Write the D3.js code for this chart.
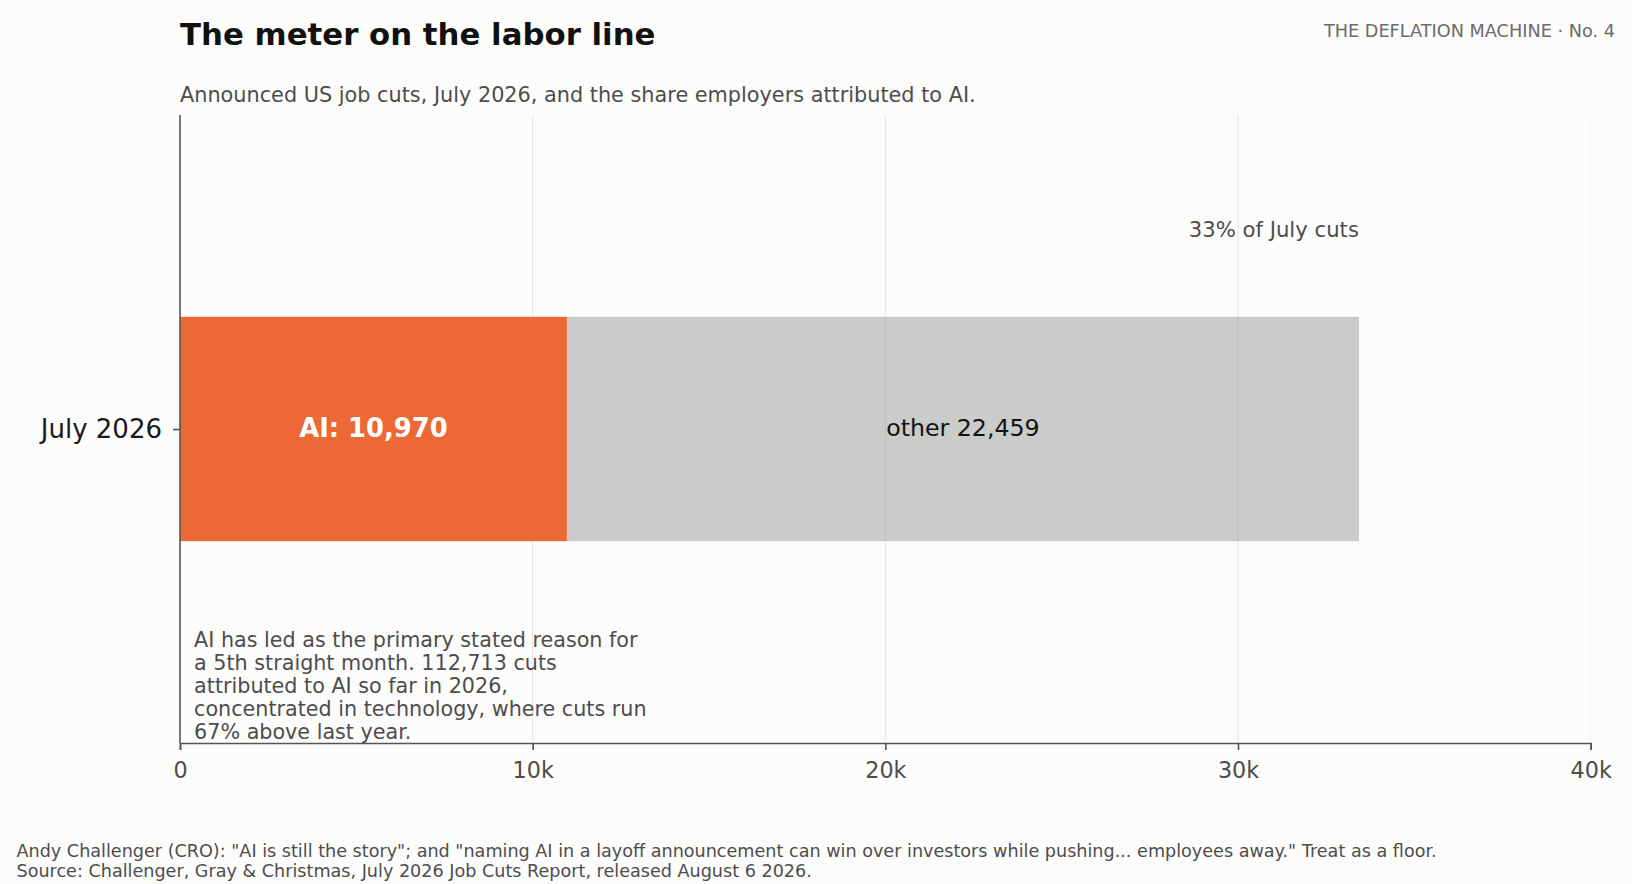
<!DOCTYPE html>
<html>
<head>
<meta charset="utf-8">
<script src="https://cdn.jsdelivr.net/npm/d3@7"></script>
<style>
  body { margin: 0; background: #fcfcfb; }
  svg { display: block; font-family: "DejaVu Sans", sans-serif; }
</style>
</head>
<body>
<div id="chart"></div>
<script>
// data
var categories = ["July 2026"];
var aiCuts = [10970];
var otherCuts = [22459];
var shareLabels = ["33% of July cuts"];
var xTicks = [0, 10000, 20000, 30000, 40000];
var xTickLabels = ["0", "10k", "20k", "30k", "40k"];

var noteLines = [
  "AI has led as the primary stated reason for",
  "a 5th straight month. 112,713 cuts",
  "attributed to AI so far in 2026,",
  "concentrated in technology, where cuts run",
  "67% above last year."
];
var footerLines = [
  "Andy Challenger (CRO): \"AI is still the story\"; and \"naming AI in a layoff announcement can win over investors while pushing... employees away.\" Treat as a floor.",
  "Source: Challenger, Gray & Christmas, July 2026 Job Cuts Report, released August 6 2026."
];

var svgWidth = 1632;
var svgHeight = 884;

var margin = { top: 115, right: 41.3, bottom: 141, left: 180 };
var width = svgWidth - margin.left - margin.right;
var height = svgHeight - margin.top - margin.bottom;

var svg = d3.select("#chart")
  .append("svg")
  .attr("width", svgWidth)
  .attr("height", svgHeight);

svg.append("rect")
  .attr("width", svgWidth)
  .attr("height", svgHeight)
  .attr("fill", "#fcfcfb");

var chartGroup = svg.append("g")
  .attr("transform", `translate(${margin.left}, ${margin.top})`);

var xLinearScale = d3.scaleLinear()
  .domain([0, 40000])
  .range([0, width]);

// one row per category, centred on its index
var yLinearScale = d3.scaleLinear()
  .domain([-0.7, categories.length - 0.3])
  .range([height, 0]);

var barHalf = 0.25;

// grid
chartGroup.append("g")
  .selectAll("line")
  .data(xTicks.slice(1))
  .enter()
  .append("line")
  .attr("x1", d => xLinearScale(d))
  .attr("x2", d => xLinearScale(d))
  .attr("y1", 0)
  .attr("y2", height)
  .attr("stroke", "#b0b0b0")
  .attr("stroke-opacity", d => d === 40000 ? 0.1 : 0.3)
  .attr("stroke-width", 1);

var rows = categories.map((c, i) => ({ cat: c, i: i, ai: aiCuts[i], other: otherCuts[i] }));

// other segment (translucent so the grid shows through)
chartGroup.selectAll(".other-bar")
  .data(rows)
  .enter()
  .append("rect")
  .attr("class", "other-bar")
  .attr("x", d => xLinearScale(d.ai))
  .attr("width", d => xLinearScale(d.ai + d.other) - xLinearScale(d.ai))
  .attr("y", d => yLinearScale(d.i + barHalf))
  .attr("height", d => yLinearScale(d.i - barHalf) - yLinearScale(d.i + barHalf))
  .attr("fill", "#999999")
  .attr("fill-opacity", 0.5);

chartGroup.selectAll(".ai-bar")
  .data(rows)
  .enter()
  .append("rect")
  .attr("class", "ai-bar")
  .attr("x", xLinearScale(0))
  .attr("width", d => xLinearScale(d.ai) - xLinearScale(0))
  .attr("y", d => yLinearScale(d.i + barHalf))
  .attr("height", d => yLinearScale(d.i - barHalf) - yLinearScale(d.i + barHalf))
  .attr("fill", "#ec6835");

// bar labels
chartGroup.selectAll(".ai-label")
  .data(rows)
  .enter()
  .append("text")
  .attr("x", d => xLinearScale(d.ai / 2))
  .attr("y", d => yLinearScale(d.i) + 8)
  .attr("text-anchor", "middle")
  .attr("font-size", 25.8)
  .attr("font-weight", "bold")
  .attr("fill", "#ffffff")
  .text(d => "AI: " + d3.format(",")(d.ai));

chartGroup.selectAll(".other-label")
  .data(rows)
  .enter()
  .append("text")
  .attr("x", d => xLinearScale(d.ai + d.other / 2))
  .attr("y", d => yLinearScale(d.i) + 7)
  .attr("text-anchor", "middle")
  .attr("font-size", 23.7)
  .attr("fill", "#111111")
  .text(d => "other " + d3.format(",")(d.other));

chartGroup.selectAll(".share-label")
  .data(rows)
  .enter()
  .append("text")
  .attr("x", d => xLinearScale(d.ai + d.other))
  .attr("y", d => yLinearScale(d.i + 0.45) + 10)
  .attr("text-anchor", "end")
  .attr("font-size", 21.2)
  .attr("fill", "#4d4d4d")
  .text((d, i) => shareLabels[i]);

// annotation
var note = chartGroup.append("text")
  .attr("x", xLinearScale(400))
  .attr("font-size", 20.7)
  .attr("fill", "#4d4d4d");
note.selectAll("tspan")
  .data(noteLines)
  .enter()
  .append("tspan")
  .attr("x", xLinearScale(400))
  .attr("y", (d, i) => yLinearScale(-0.69) - (noteLines.length - 1 - i) * 23)
  .text(d => d);

// axes
var bottomAxis = d3.axisBottom(xLinearScale)
  .tickValues(xTicks)
  .tickFormat((d, i) => xTickLabels[i])
  .tickSizeOuter(0)
  .tickSize(7)
  .tickPadding(12);

var xAxis = chartGroup.append("g")
  .attr("transform", `translate(0, ${height})`)
  .call(bottomAxis);
xAxis.select(".domain").attr("stroke", "#555555").attr("stroke-width", 1.6);
xAxis.selectAll(".tick line").attr("stroke", "#555555").attr("stroke-width", 1.6);
xAxis.selectAll(".tick text")
  .attr("font-size", 22.3)
  .attr("font-family", "DejaVu Sans")
  .attr("fill", "#4d4d4d");

var leftAxis = d3.axisLeft(d3.scaleOrdinal().domain(categories).range(categories.map((c, i) => yLinearScale(i))))
  .tickSizeOuter(0)
  .tickSize(7)
  .tickPadding(11);

var yAxis = chartGroup.append("g").call(leftAxis);
yAxis.select(".domain").remove();
yAxis.selectAll(".tick line").attr("stroke", "#555555").attr("stroke-width", 1.6);
yAxis.selectAll(".tick text")
  .attr("font-size", 26)
  .attr("font-family", "DejaVu Sans")
  .attr("fill", "#1a1a1a");

chartGroup.append("line")
  .attr("x1", 0).attr("x2", 0)
  .attr("y1", 0).attr("y2", height)
  .attr("stroke", "#555555")
  .attr("stroke-width", 1.6);

// titles
svg.append("text")
  .attr("x", 180)
  .attr("y", 45)
  .attr("font-size", 30.8)
  .attr("font-weight", "bold")
  .attr("fill", "#111111")
  .text("The meter on the labor line");

svg.append("text")
  .attr("x", 180)
  .attr("y", 102)
  .attr("font-size", 20.8)
  .attr("fill", "#4d4d4d")
  .text("Announced US job cuts, July 2026, and the share employers attributed to AI.");

svg.append("text")
  .attr("x", 1615)
  .attr("y", 37)
  .attr("text-anchor", "end")
  .attr("font-size", 17.7)
  .attr("fill", "#6b6b6b")
  .text("THE DEFLATION MACHINE \u00b7 No. 4");

svg.append("g")
  .selectAll("text")
  .data(footerLines)
  .enter()
  .append("text")
  .attr("x", 16.5)
  .attr("y", (d, i) => 856.7 + i * 20)
  .attr("font-size", 17.6)
  .attr("fill", "#4d4d4d")
  .text(d => d);
</script>
</body>
</html>
